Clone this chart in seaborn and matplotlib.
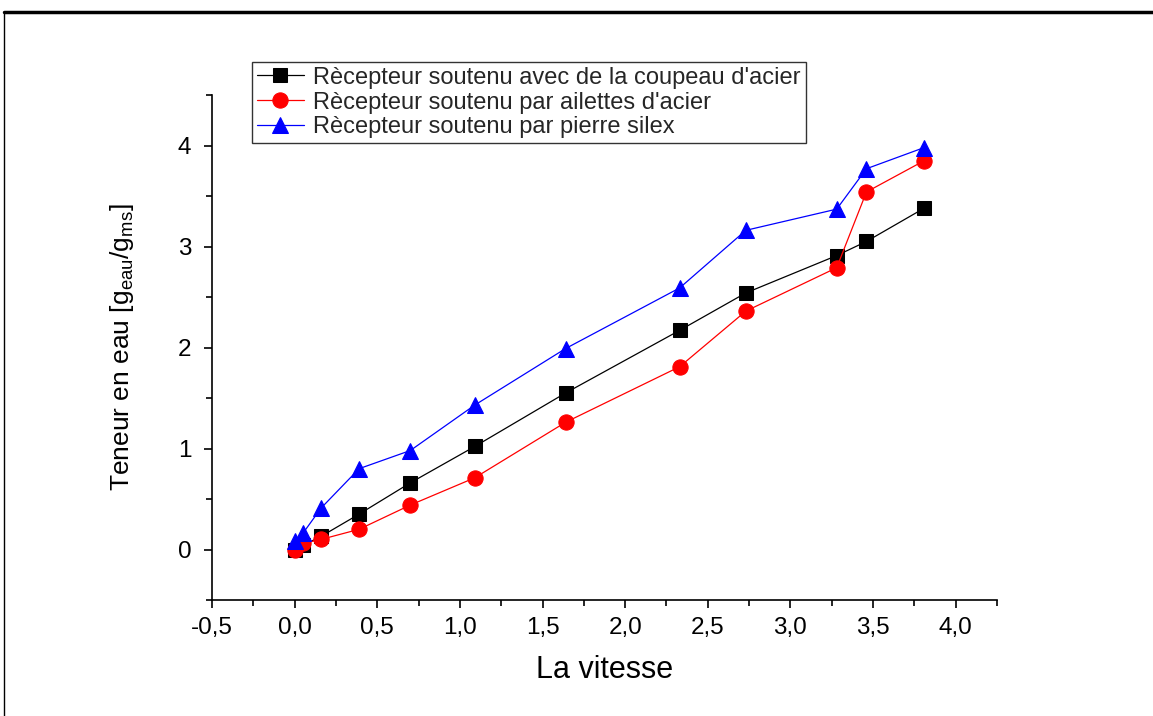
import matplotlib
matplotlib.use("Agg")
import matplotlib.pyplot as plt
import seaborn as sns
import pandas as pd
from matplotlib.ticker import MultipleLocator, FuncFormatter
from matplotlib.lines import Line2D

sns.set_theme(style="ticks")
plt.rcParams['font.family'] = ['Liberation Sans', 'DejaVu Sans']
plt.rcParams['mathtext.fontset'] = 'custom'
plt.rcParams['mathtext.rm'] = 'Liberation Sans'
plt.rcParams['mathtext.it'] = 'Liberation Sans'

vitesse = [0.0, 0.05, 0.16, 0.39, 0.70, 1.09, 1.64, 2.33, 2.73, 3.28, 3.46, 3.81]
coupeau = [0.0, 0.04, 0.13, 0.35, 0.66, 1.02, 1.55, 2.17, 2.54, 2.91, 3.05, 3.38]
ailettes = [0.0, 0.06, 0.10, 0.20, 0.44, 0.71, 1.26, 1.81, 2.36, 2.79, 3.54, 3.85]
silex = [0.08, 0.16, 0.41, 0.80, 0.98, 1.43, 1.99, 2.59, 3.16, 3.37, 3.77, 3.98]

labels = ["Rècepteur soutenu avec de la coupeau d'acier",
          "Rècepteur soutenu par ailettes d'acier",
          "Rècepteur soutenu par pierre silex"]
colors = ["black", "red", "blue"]
markers = ["s", "o", "^"]
sizes = [10, 11, 12]

fig = plt.figure(figsize=(11.53, 7.16), dpi=100)
W, H = 1153, 716
ax = fig.add_axes([212 / W, (H - 600) / H, (997 - 212) / W, (600 - 95) / H])

for vals, lab, c, m, s in zip([coupeau, ailettes, silex], labels, colors, markers, sizes):
    df = pd.DataFrame({"x": vitesse, "y": vals})
    sns.lineplot(data=df, x="x", y="y", ax=ax, color=c, marker=m, markersize=s,
                 markeredgecolor=c, linewidth=0.9, sort=False, label=lab)

ax.set_xlim(-0.5, 4.25)
ax.set_ylim(-0.5, 4.5)
ax.xaxis.set_major_locator(MultipleLocator(0.5))
ax.xaxis.set_minor_locator(MultipleLocator(0.25))
ax.yaxis.set_major_locator(MultipleLocator(1))
ax.yaxis.set_minor_locator(MultipleLocator(0.5))
ax.xaxis.set_major_formatter(FuncFormatter(lambda v, p: f"{v:.1f}".replace(".", ",")))
ax.yaxis.set_major_formatter(FuncFormatter(lambda v, p: f"{v:.0f}"))
ax.tick_params(which="major", direction="out", length=6, width=1.2, labelsize=17.5,
               color="black", labelcolor="black", pad=6)
ax.tick_params(axis="y", which="major", pad=9)
ax.tick_params(which="minor", direction="out", length=4, width=1.2, color="black")
for sp in ["top", "right"]:
    ax.spines[sp].set_visible(False)
for sp in ["left", "bottom"]:
    ax.spines[sp].set_color("black")
    ax.spines[sp].set_linewidth(1.2)

ax.set_xlabel("La vitesse", fontsize=22, color="black", labelpad=12)
ax.set_ylabel("Teneur en eau [g$_{\\mathregular{eau}}$/g$_{\\mathregular{ms}}$]", fontsize=19,
              color="black", labelpad=30)

leg = ax.legend(loc="upper left", bbox_to_anchor=(252 / W, 1 - 62 / H), bbox_transform=fig.transFigure,
                fontsize=17, frameon=True, fancybox=False, handlelength=2.0, borderpad=0.2,
                labelspacing=0.12, handletextpad=0.4, borderaxespad=0)
leg.get_frame().set_edgecolor("black")
leg.get_frame().set_linewidth(1.0)

# outer frame
fig.add_artist(Line2D([4 / W, 1.0], [1 - 12 / H, 1 - 12 / H], transform=fig.transFigure, color="black", linewidth=2.5))
fig.add_artist(Line2D([4 / W, 4 / W], [0.0, 1 - 12 / H], transform=fig.transFigure, color="black", linewidth=1.0))

fig.savefig("out.png", dpi=100)
